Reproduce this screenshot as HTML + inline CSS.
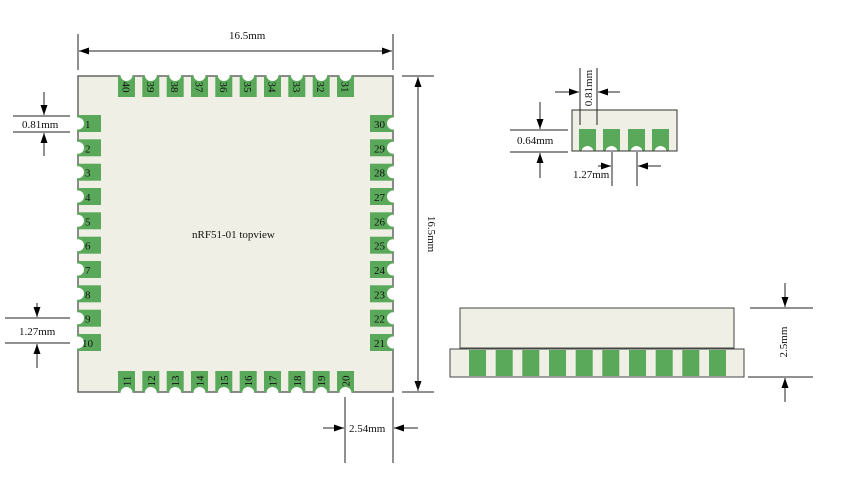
<!DOCTYPE html>
<html><head><meta charset="utf-8"><style>
html,body{margin:0;padding:0;background:#fff;}
svg{display:block;}
text{font-family:"Liberation Serif","DejaVu Serif",serif;fill:#111;}
</style></head><body>
<svg width="842" height="481" viewBox="0 0 842 481" xmlns="http://www.w3.org/2000/svg">
<defs>
<marker id="a" viewBox="0 0 10 10" refX="10" refY="5" markerWidth="10" markerHeight="10" markerUnits="userSpaceOnUse" orient="auto"><path d="M0,1.5 L10,5 L0,8.5 z" fill="#000"/></marker>
</defs>
<!-- main body -->
<rect x="78" y="76" width="315" height="316" fill="#efefe6" stroke="#666" stroke-width="1.5"/>
<g fill="#5aa95a">
<!-- left pads -->
<rect x="78" y="115" width="23" height="17"/><rect x="78" y="139.3" width="23" height="17"/><rect x="78" y="163.7" width="23" height="17"/><rect x="78" y="188" width="23" height="17"/><rect x="78" y="212.3" width="23" height="17"/><rect x="78" y="236.7" width="23" height="17"/><rect x="78" y="261" width="23" height="17"/><rect x="78" y="285.3" width="23" height="17"/><rect x="78" y="309.7" width="23" height="17"/><rect x="78" y="334" width="23" height="17"/>
<!-- right pads -->
<rect x="370" y="115" width="23" height="17"/><rect x="370" y="139.3" width="23" height="17"/><rect x="370" y="163.7" width="23" height="17"/><rect x="370" y="188" width="23" height="17"/><rect x="370" y="212.3" width="23" height="17"/><rect x="370" y="236.7" width="23" height="17"/><rect x="370" y="261" width="23" height="17"/><rect x="370" y="285.3" width="23" height="17"/><rect x="370" y="309.7" width="23" height="17"/><rect x="370" y="334" width="23" height="17"/>
<!-- top pads -->
<rect x="118" y="76" width="17" height="21"/><rect x="142.3" y="76" width="17" height="21"/><rect x="166.7" y="76" width="17" height="21"/><rect x="191" y="76" width="17" height="21"/><rect x="215.3" y="76" width="17" height="21"/><rect x="239.7" y="76" width="17" height="21"/><rect x="264" y="76" width="17" height="21"/><rect x="288.3" y="76" width="17" height="21"/><rect x="312.7" y="76" width="17" height="21"/><rect x="337" y="76" width="17" height="21"/>
<!-- bottom pads -->
<rect x="118" y="371" width="17" height="21"/><rect x="142.3" y="371" width="17" height="21"/><rect x="166.7" y="371" width="17" height="21"/><rect x="191" y="371" width="17" height="21"/><rect x="215.3" y="371" width="17" height="21"/><rect x="239.7" y="371" width="17" height="21"/><rect x="264" y="371" width="17" height="21"/><rect x="288.3" y="371" width="17" height="21"/><rect x="312.7" y="371" width="17" height="21"/><rect x="337" y="371" width="17" height="21"/>
</g>
<g fill="#fff">
<circle cx="78" cy="123.5" r="6"/><circle cx="78" cy="147.8" r="6"/><circle cx="78" cy="172.2" r="6"/><circle cx="78" cy="196.5" r="6"/><circle cx="78" cy="220.8" r="6"/><circle cx="78" cy="245.2" r="6"/><circle cx="78" cy="269.5" r="6"/><circle cx="78" cy="293.8" r="6"/><circle cx="78" cy="318.2" r="6"/><circle cx="78" cy="342.5" r="6"/>
<circle cx="393" cy="123.5" r="6"/><circle cx="393" cy="147.8" r="6"/><circle cx="393" cy="172.2" r="6"/><circle cx="393" cy="196.5" r="6"/><circle cx="393" cy="220.8" r="6"/><circle cx="393" cy="245.2" r="6"/><circle cx="393" cy="269.5" r="6"/><circle cx="393" cy="293.8" r="6"/><circle cx="393" cy="318.2" r="6"/><circle cx="393" cy="342.5" r="6"/>
<circle cx="126.5" cy="75" r="6"/><circle cx="150.8" cy="75" r="6"/><circle cx="175.2" cy="75" r="6"/><circle cx="199.5" cy="75" r="6"/><circle cx="223.8" cy="75" r="6"/><circle cx="248.2" cy="75" r="6"/><circle cx="272.5" cy="75" r="6"/><circle cx="296.8" cy="75" r="6"/><circle cx="321.2" cy="75" r="6"/><circle cx="345.5" cy="75" r="6"/>
<circle cx="126.5" cy="393" r="6"/><circle cx="150.8" cy="393" r="6"/><circle cx="175.2" cy="393" r="6"/><circle cx="199.5" cy="393" r="6"/><circle cx="223.8" cy="393" r="6"/><circle cx="248.2" cy="393" r="6"/><circle cx="272.5" cy="393" r="6"/><circle cx="296.8" cy="393" r="6"/><circle cx="321.2" cy="393" r="6"/><circle cx="345.5" cy="393" r="6"/>
</g>
<g font-size="11">
<text x="85" y="128">1</text><text x="85" y="152.3">2</text><text x="85" y="176.7">3</text><text x="85" y="201">4</text><text x="85" y="225.3">5</text><text x="85" y="249.7">6</text><text x="85" y="274">7</text><text x="85" y="298.3">8</text><text x="85" y="322.7">9</text><text x="82" y="347">10</text>
<text x="374" y="128">30</text><text x="374" y="152.3">29</text><text x="374" y="176.7">28</text><text x="374" y="201">27</text><text x="374" y="225.3">26</text><text x="374" y="249.7">25</text><text x="374" y="274">24</text><text x="374" y="298.3">23</text><text x="374" y="322.7">22</text><text x="374" y="347">21</text>
</g>
<g font-size="11" text-anchor="middle">
<text transform="translate(122.5,87) rotate(90)">40</text><text transform="translate(146.8,87) rotate(90)">39</text><text transform="translate(171.2,87) rotate(90)">38</text><text transform="translate(195.5,87) rotate(90)">37</text><text transform="translate(219.8,87) rotate(90)">36</text><text transform="translate(244.2,87) rotate(90)">35</text><text transform="translate(268.5,87) rotate(90)">34</text><text transform="translate(292.8,87) rotate(90)">33</text><text transform="translate(317.2,87) rotate(90)">32</text><text transform="translate(341.5,87) rotate(90)">31</text>
<text transform="translate(130.5,381) rotate(-90)">11</text><text transform="translate(154.8,381) rotate(-90)">12</text><text transform="translate(179.2,381) rotate(-90)">13</text><text transform="translate(203.5,381) rotate(-90)">14</text><text transform="translate(227.8,381) rotate(-90)">15</text><text transform="translate(252.2,381) rotate(-90)">16</text><text transform="translate(276.5,381) rotate(-90)">17</text><text transform="translate(300.8,381) rotate(-90)">18</text><text transform="translate(325.2,381) rotate(-90)">19</text><text transform="translate(349.5,381) rotate(-90)">20</text>
</g>
<text x="192" y="238" font-size="11">nRF51-01 topview</text>

<!-- dimension lines -->
<g stroke="#222" stroke-width="1" fill="none">
<line x1="78" y1="34" x2="78" y2="70"/><line x1="393" y1="34" x2="393" y2="70"/>
<line x1="79" y1="51" x2="392" y2="51" marker-end="url(#a)"/><line x1="392" y1="51" x2="79" y2="51" marker-end="url(#a)"/>
<line x1="402" y1="76" x2="434" y2="76"/><line x1="402" y1="392" x2="434" y2="392"/>
<line x1="418" y1="77" x2="418" y2="391" marker-end="url(#a)"/><line x1="418" y1="391" x2="418" y2="77" marker-end="url(#a)"/>
<line x1="13" y1="116" x2="70" y2="116"/><line x1="13" y1="132" x2="70" y2="132"/>
<line x1="44" y1="92" x2="44" y2="115" marker-end="url(#a)"/><line x1="44" y1="156" x2="44" y2="133" marker-end="url(#a)"/>
<line x1="5" y1="318" x2="70" y2="318"/><line x1="5" y1="343" x2="70" y2="343"/>
<line x1="37" y1="303" x2="37" y2="317" marker-end="url(#a)"/><line x1="37" y1="368" x2="37" y2="344" marker-end="url(#a)"/>
<line x1="345" y1="397" x2="345" y2="463"/><line x1="393" y1="397" x2="393" y2="463"/>
<line x1="323" y1="428" x2="344" y2="428" marker-end="url(#a)"/><line x1="418" y1="428" x2="394" y2="428" marker-end="url(#a)"/>
</g>
<text x="229" y="39" font-size="11">16.5mm</text>
<text transform="translate(428,234) rotate(90)" font-size="11" text-anchor="middle">16.5mm</text>
<text x="22" y="128" font-size="11">0.81mm</text>
<text x="19" y="335" font-size="11">1.27mm</text>
<text x="349" y="432" font-size="11">2.54mm</text>

<!-- top-right detail -->
<rect x="572" y="110" width="105" height="41" fill="#efefe6" stroke="#333" stroke-width="1"/>
<g fill="#5aa95a"><rect x="579" y="129" width="17" height="22"/><rect x="603" y="129" width="17" height="22"/><rect x="628" y="129" width="17" height="22"/><rect x="652" y="129" width="17" height="22"/></g>
<g fill="#fff"><circle cx="587.5" cy="152" r="6"/><circle cx="611.5" cy="152" r="6"/><circle cx="636.5" cy="152" r="6"/><circle cx="660.5" cy="152" r="6"/></g>
<line x1="572" y1="151" x2="677" y2="151" stroke="#333"/>
<g stroke="#222" stroke-width="1" fill="none">
<line x1="580" y1="68" x2="580" y2="125"/><line x1="597" y1="68" x2="597" y2="125"/>
<line x1="555" y1="92" x2="579" y2="92" marker-end="url(#a)"/><line x1="620" y1="92" x2="598" y2="92" marker-end="url(#a)"/>
<line x1="510" y1="130" x2="568" y2="130"/><line x1="510" y1="152" x2="568" y2="152"/>
<line x1="540" y1="102" x2="540" y2="129" marker-end="url(#a)"/><line x1="540" y1="178" x2="540" y2="153" marker-end="url(#a)"/>
<line x1="612" y1="152" x2="612" y2="186"/><line x1="637" y1="152" x2="637" y2="186"/>
<line x1="598" y1="166" x2="611" y2="166" marker-end="url(#a)"/><line x1="661" y1="166" x2="638" y2="166" marker-end="url(#a)"/>
</g>
<text transform="translate(592,88) rotate(-90)" font-size="11" text-anchor="middle">0.81mm</text>
<text x="517" y="144" font-size="11">0.64mm</text>
<text x="573" y="178" font-size="11">1.27mm</text>

<!-- side view -->
<rect x="460" y="308" width="274" height="40" fill="#efefe6" stroke="#444" stroke-width="1"/>
<rect x="450" y="349" width="294" height="28" fill="#efefe6" stroke="#444" stroke-width="1"/>
<g fill="#5aa95a">
<rect x="469" y="350" width="17" height="26"/><rect x="495.7" y="350" width="17" height="26"/><rect x="522.3" y="350" width="17" height="26"/><rect x="549" y="350" width="17" height="26"/><rect x="575.7" y="350" width="17" height="26"/><rect x="602.3" y="350" width="17" height="26"/><rect x="629" y="350" width="17" height="26"/><rect x="655.7" y="350" width="17" height="26"/><rect x="682.3" y="350" width="17" height="26"/><rect x="709" y="350" width="17" height="26"/>
</g>
<g stroke="#222" stroke-width="1" fill="none">
<line x1="750" y1="308" x2="813" y2="308"/><line x1="748" y1="377" x2="813" y2="377"/>
<line x1="785" y1="283" x2="785" y2="307" marker-end="url(#a)"/><line x1="785" y1="402" x2="785" y2="378" marker-end="url(#a)"/>
</g>
<text transform="translate(787,342) rotate(-90)" font-size="11" text-anchor="middle">2.5mm</text>
</svg>
</body></html>
